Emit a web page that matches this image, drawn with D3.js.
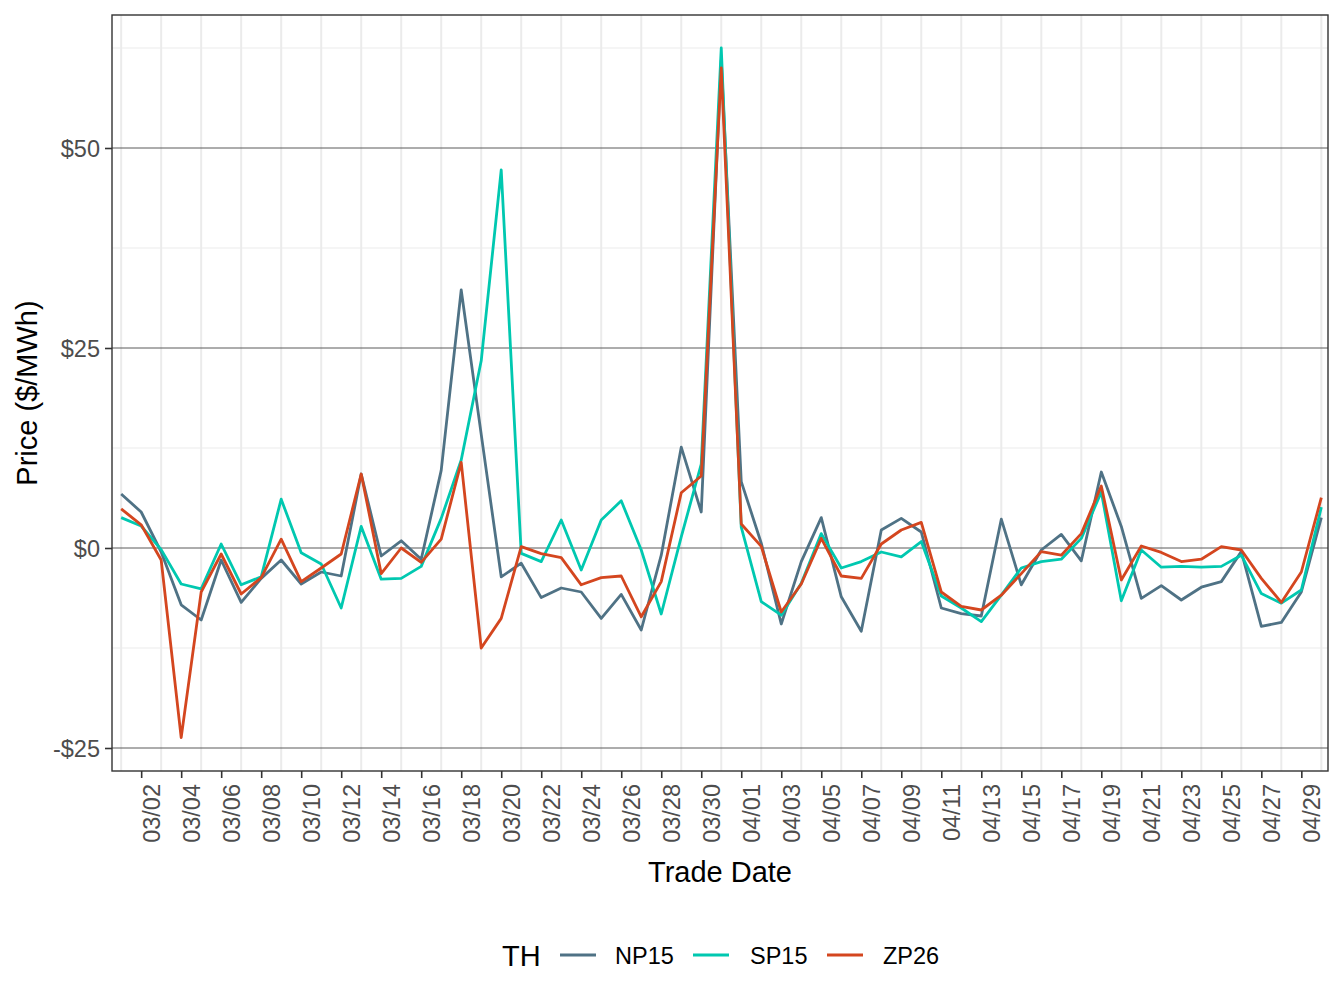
<!DOCTYPE html>
<html>
<head>
<meta charset="utf-8">
<script src="https://cdn.jsdelivr.net/npm/d3@7"></script>
<style>
html,body{margin:0;padding:0;background:#fff;}
text{font-family:"Liberation Sans",Arial,Helvetica,sans-serif;}
</style>
</head>
<body>
<svg id="chart" width="1344" height="1008"></svg>
<script>
const dates = ["03/01","03/02","03/03","03/04","03/05","03/06","03/07","03/08","03/09","03/10",
"03/11","03/12","03/13","03/14","03/15","03/16","03/17","03/18","03/19","03/20",
"03/21","03/22","03/23","03/24","03/25","03/26","03/27","03/28","03/29","03/30",
"03/31","04/01","04/02","04/03","04/04","04/05","04/06","04/07","04/08","04/09",
"04/10","04/11","04/12","04/13","04/14","04/15","04/16","04/17","04/18","04/19",
"04/20","04/21","04/22","04/23","04/24","04/25","04/26","04/27","04/28","04/29","04/30"];

const np15 = [6.75,4.5,-0.5,-7.1,-9.0,-1.5,-6.8,-3.8,-1.5,-4.5,
-3.0,-3.5,9.25,-1.0,0.9,-1.4,9.7,32.25,14.2,-3.6,
-1.9,-6.2,-5.0,-5.5,-8.8,-5.8,-10.25,-0.9,12.6,4.5,
61.0,8.3,0.6,-9.5,-1.7,3.8,-6.1,-10.4,2.25,3.7,
2.0,-7.5,-8.2,-8.5,3.6,-4.6,-0.25,1.7,-1.6,9.5,
2.7,-6.3,-4.7,-6.5,-4.9,-4.2,-0.45,-9.8,-9.3,-5.5,3.8];

const sp15 = [3.8,2.75,-0.2,-4.5,-5.1,0.5,-4.6,-3.6,6.1,-0.6,
-2.0,-7.5,2.7,-3.9,-3.8,-2.3,3.7,11.0,23.4,47.25,
-0.67,-1.7,3.5,-2.75,3.5,5.9,-0.25,-8.25,1.4,10.5,
62.5,2.6,-6.7,-8.4,-4.4,1.8,-2.5,-1.7,-0.5,-1.1,
0.8,-6.0,-7.5,-9.2,-5.9,-2.5,-1.7,-1.4,1.2,7.0,
-6.6,-0.25,-2.4,-2.3,-2.4,-2.3,-0.9,-5.7,-6.9,-5.25,5.1];

const zp26 = [4.9,2.9,-1.5,-23.7,-5.5,-0.75,-5.75,-3.7,1.1,-4.2,
-2.5,-0.75,9.25,-3.2,0.0,-1.8,1.1,10.7,-12.5,-8.8,
0.17,-0.7,-1.2,-4.6,-3.7,-3.5,-8.6,-4.2,6.9,9.0,
60.0,3.0,0.2,-8.0,-4.5,1.2,-3.5,-3.8,0.5,2.25,
3.2,-5.5,-7.3,-7.75,-5.9,-3.2,-0.45,-0.9,1.8,7.75,
-4.0,0.25,-0.55,-1.7,-1.4,0.17,-0.25,-3.8,-6.8,-3.0,6.3];

const seriesNames = ["NP15","SP15","ZP26"];
const seriesColors = ["#4f7285","#00c8b0","#d4461f"];
const yTicks = [-25,0,25,50];
const yTickLabels = ["-$25","$0","$25","$50"];
const yMinor = [-12.5,12.5,37.5,62.5];

const svg = d3.select("#chart");
const panel = {left:112, right:1328, top:15, bottom:771};
const parse = d3.timeParse("%m/%d");
const dayList = dates.map(parse);

const x = d3.scaleTime()
  .domain([d3.timeHour.offset(dayList[0], -10.4), d3.timeHour.offset(dayList[dayList.length-1], 8.8)])
  .range([panel.left, panel.right]);
const y = d3.scaleLinear().domain([-27.875, 66.625]).range([panel.bottom, panel.top]);

const g = svg.append("g");
// background
g.append("rect").attr("x",panel.left).attr("y",panel.top)
  .attr("width",panel.right-panel.left).attr("height",panel.bottom-panel.top).attr("fill","#fff");

// vertical grid lines at odd days
const oddDays = dayList.filter((d,i)=> i%2===0);
const evenDays = dayList.filter((d,i)=> i%2===1);
g.selectAll("line.vgrid").data(oddDays).enter().append("line")
  .attr("x1",d=>x(d)).attr("x2",d=>x(d)).attr("y1",panel.top).attr("y2",panel.bottom)
  .attr("stroke","#ebebeb").attr("stroke-width",2);
// minor horizontal
g.selectAll("line.hminor").data(yMinor).enter().append("line")
  .attr("x1",panel.left).attr("x2",panel.right).attr("y1",d=>y(d)).attr("y2",d=>y(d))
  .attr("stroke","#ebebeb").attr("stroke-width",1.2);
// major horizontal (dark)
g.selectAll("line.hmajor").data(yTicks).enter().append("line")
  .attr("x1",panel.left).attr("x2",panel.right).attr("y1",d=>y(d)).attr("y2",d=>y(d))
  .attr("stroke","#5a5a5a").attr("stroke-width",1);

// lines
const allSeries = [np15, sp15, zp26];
const line = d3.line().x((d,i)=>x(dayList[i])).y(d=>y(d));
allSeries.forEach((s,k)=>{
  g.append("path").datum(s).attr("d",line).attr("fill","none")
    .attr("stroke",seriesColors[k]).attr("stroke-width",2.8)
    .attr("stroke-linejoin","round").attr("stroke-linecap","butt");
});

// panel border
g.append("rect").attr("x",panel.left).attr("y",panel.top)
  .attr("width",panel.right-panel.left).attr("height",panel.bottom-panel.top)
  .attr("fill","none").attr("stroke","#333333").attr("stroke-width",1.4);

// y axis
const yAxis = d3.axisLeft(y).tickValues(yTicks).tickFormat((d,i)=>yTickLabels[i]).tickSize(7).tickPadding(5);
const ya = svg.append("g").attr("transform",`translate(${panel.left},0)`).call(yAxis);
ya.select(".domain").remove();
ya.selectAll(".tick line").attr("stroke","#333").attr("stroke-width",1.6);
ya.selectAll(".tick text").attr("fill","#4d4d4d").style("font-size","23.5px")
  .style("font-family","'Liberation Sans',Arial,sans-serif").attr("dy","0.36em");

// x axis
const xAxis = d3.axisBottom(x).tickValues(evenDays).tickFormat(d3.timeFormat("%m/%d")).tickSize(7).tickPadding(6);
const xa = svg.append("g").attr("transform",`translate(0,${panel.bottom})`).call(xAxis);
xa.select(".domain").remove();
xa.selectAll(".tick line").attr("stroke","#333").attr("stroke-width",1.6);
xa.selectAll(".tick text").attr("fill","#4d4d4d").style("font-size","23.5px")
  .style("font-family","'Liberation Sans',Arial,sans-serif")
  .attr("text-anchor","end").attr("transform","translate(0,13) rotate(-90)")
  .attr("x",0).attr("y",0).attr("dy","18.5px");

// axis titles
svg.append("text").attr("x",(panel.left+panel.right)/2).attr("y",882)
  .attr("text-anchor","middle").style("font-size","29px").attr("fill","#000").text("Trade Date");
svg.append("text").attr("transform",`translate(37,${(panel.top+panel.bottom)/2}) rotate(-90)`)
  .attr("text-anchor","middle").style("font-size","29px").attr("fill","#000").text("Price ($/MWh)");

// legend
const lg = svg.append("g");
lg.append("text").attr("x",502).attr("y",966).style("font-size","29px").attr("fill","#000").text("TH");
const keyX = [560, 693, 827];
const labX = [615, 750, 883];
seriesNames.forEach((n,k)=>{
  lg.append("line").attr("x1",keyX[k]).attr("x2",keyX[k]+36).attr("y1",955).attr("y2",955)
    .attr("stroke",seriesColors[k]).attr("stroke-width",2.8);
  lg.append("text").attr("x",labX[k]).attr("y",964).style("font-size","23.5px").attr("fill","#000").text(n);
});
</script>
</body>
</html>
